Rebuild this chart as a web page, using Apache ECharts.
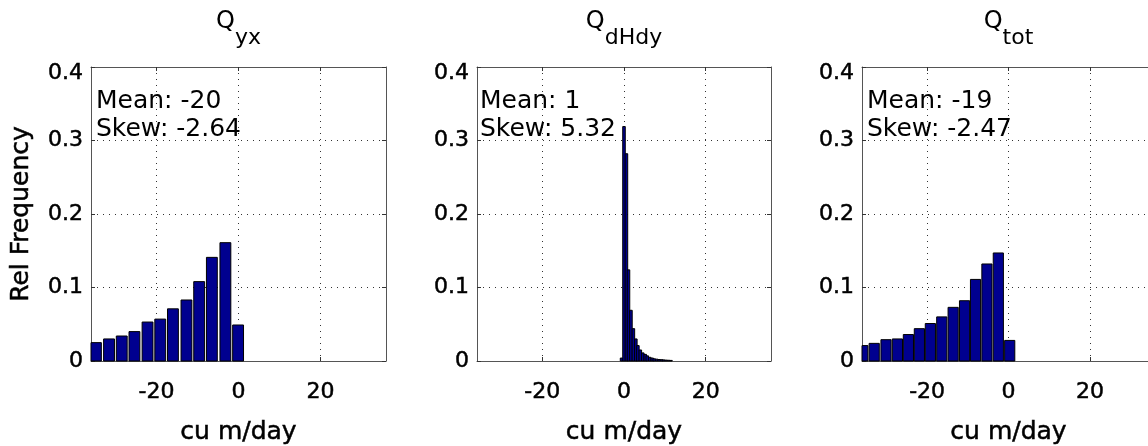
<!DOCTYPE html>
<html>
<head>
<meta charset="utf-8">
<script src="https://cdn.jsdelivr.net/npm/echarts@6/dist/echarts.min.js"></script>
<style>
html, body { margin: 0; padding: 0; background: #fff; }
#main { width: 1148px; height: 446px; }
</style>
</head>
<body>
<div id="main"></div>
<script>
// bin centres and relative frequencies
var qyxCenters = [-34.8, -31.6, -28.5, -25.4, -22.2, -19.1, -16.0, -12.7, -9.6, -6.5, -3.2, -0.1];
var qyxFreq = [0.025, 0.030, 0.034, 0.040, 0.053, 0.057, 0.071, 0.083, 0.108, 0.141, 0.161, 0.049];

var dhdyCenters = [-0.6, 0.0, 0.6, 1.1, 1.7, 2.3, 2.9, 3.4, 4.0, 4.6, 5.2, 5.7, 6.3, 6.9, 7.4, 8.0, 8.6, 9.2, 9.7, 10.3, 10.9, 11.5];
var dhdyFreq = [0.004, 0.319, 0.282, 0.124, 0.069, 0.044, 0.030, 0.021, 0.015, 0.011, 0.009, 0.007, 0.005, 0.004, 0.003, 0.0025, 0.002, 0.0018, 0.0015, 0.0012, 0.001, 0.0008];

var totCenters = [-35.8, -33.0, -30.1, -27.3, -24.6, -21.9, -19.2, -16.4, -13.6, -10.8, -8.1, -5.3, -2.5, 0.3];
var totFreq = [0.021, 0.024, 0.029, 0.030, 0.036, 0.044, 0.051, 0.060, 0.073, 0.082, 0.111, 0.132, 0.147, 0.028];

var xTicks = [-20, 0, 20];
var titleSubs = ['yx', 'dHdy', 'tot'];
var statLines = [
    ['Mean: -20', 'Skew: -2.64'],
    ['Mean: 1', 'Skew: 5.32'],
    ['Mean: -19', 'Skew: -2.47']
];

var FONT = 'DejaVu Sans';
var grids = [
    { left: 91, top: 67, width: 295, height: 294, outerBoundsMode: 'none' },
    { left: 477, top: 67, width: 294, height: 294, outerBoundsMode: 'none' },
    { left: 862, top: 67, width: 293, height: 294, outerBoundsMode: 'none' }
];
var panels = [
    { centers: qyxCenters, freq: qyxFreq, barW: 2.65 },
    { centers: dhdyCenters, freq: dhdyFreq, barW: 0.62 },
    { centers: totCenters, freq: totFreq, barW: 2.5 }
];

function histItem(barW) {
    return function(params, api) {
        var x = api.value(0), y = api.value(1);
        var a = api.coord([x - barW / 2, y]);
        var b = api.coord([x + barW / 2, 0]);
        var cs = params.coordSys;
        var rect = echarts.graphic.clipRectByRect(
            { x: a[0], y: a[1], width: b[0] - a[0], height: b[1] - a[1] },
            { x: cs.x, y: cs.y, width: cs.width, height: cs.height }
        );
        if (!rect) return;
        return {
            type: 'rect',
            shape: rect,
            style: { fill: '#00008f', stroke: '#000', lineWidth: 1 }
        };
    };
}

var lineCol = '#555';
// heavier look of the matlab axis text
var heavy = { textBorderColor: '#000', textBorderWidth: 0.5 };
var xAxes = [], yAxes = [], series = [], graphics = [];

grids.forEach(function(g, i) {
    // bottom axis with labels
    xAxes.push({
        type: 'value', gridIndex: i, min: -36, max: 36, position: 'bottom',
        axisLine: { show: true, onZero: false, lineStyle: { color: lineCol } },
        axisTick: { show: true, inside: true, length: 4, customValues: xTicks, lineStyle: { color: '#333' } },
        axisLabel: Object.assign({ customValues: xTicks, color: '#000', fontFamily: FONT, fontSize: 22, margin: 20 }, heavy),
        splitLine: { show: true, lineStyle: { color: '#333', type: [1, 5], width: 1 } },
        name: 'cu m/day', nameLocation: 'middle', nameGap: 59,
        nameTextStyle: Object.assign({ color: '#000', fontFamily: FONT, fontSize: 25 }, heavy)
    });
    // top axis, ticks only
    xAxes.push({
        type: 'value', gridIndex: i, min: -36, max: 36, position: 'top',
        axisLine: { show: true, onZero: false, lineStyle: { color: lineCol } },
        axisTick: { show: true, inside: true, length: 4, customValues: xTicks, lineStyle: { color: '#333' } },
        axisLabel: { show: false },
        splitLine: { show: false }
    });
    yAxes.push({
        type: 'value', gridIndex: i, min: 0, max: 0.4, interval: 0.1, position: 'left',
        axisLine: { show: true, onZero: false, lineStyle: { color: lineCol } },
        axisTick: { show: true, inside: true, length: 4, lineStyle: { color: '#333' } },
        axisLabel: Object.assign({
            color: '#000', fontFamily: FONT, fontSize: 22, margin: 8,
            // matlab keeps the top label inside the box
            formatter: function(v) { return v >= 0.4 ? '{top|' + v + '}' : String(v); },
            rich: { top: { fontFamily: FONT, fontSize: 22, color: '#000', padding: [13, 0, 0, 0], textBorderColor: '#000', textBorderWidth: 0.5 } }
        }, heavy),
        splitLine: { show: true, lineStyle: { color: '#333', type: [1, 5], width: 1 } },
        name: i === 0 ? 'Rel Frequency' : '', nameLocation: 'middle', nameGap: 57,
        nameTextStyle: Object.assign({ color: '#000', fontFamily: FONT, fontSize: 25 }, heavy)
    });
    yAxes.push({
        type: 'value', gridIndex: i, min: 0, max: 0.4, interval: 0.1, position: 'right',
        axisLine: { show: true, onZero: false, lineStyle: { color: lineCol } },
        axisTick: { show: true, inside: true, length: 4, lineStyle: { color: '#333' } },
        axisLabel: { show: false },
        splitLine: { show: false }
    });

    var p = panels[i];
    series.push({
        type: 'custom',
        xAxisIndex: 2 * i,
        yAxisIndex: 2 * i,
        renderItem: histItem(p.barW),
        encode: { x: 0, y: 1 },
        data: p.centers.map(function(c, k) { return [c, p.freq[k]]; }),
        silent: true
    });

    var cx = g.left + g.width / 2;
    graphics.push({
        type: 'text', x: cx, y: 10, z: 10,
        style: {
            text: '{q|Q}{s|' + titleSubs[i] + '}',
            align: 'center', verticalAlign: 'top',
            fill: '#000', fontFamily: FONT,
            rich: {
                q: { fontFamily: FONT, fontSize: 24, verticalAlign: 'top', fill: '#000' },
                s: { fontFamily: FONT, fontSize: 22, verticalAlign: 'top', padding: [17, 0, 0, 0], fill: '#000' }
            }
        }
    });
    graphics.push({
        type: 'text', x: g.left + (i === 1 ? 3 : 5), y: 87, z: 10,
        style: {
            text: statLines[i].join('\n'),
            align: 'left', verticalAlign: 'top',
            fill: '#000', fontFamily: FONT, fontSize: 25, lineHeight: 28
        }
    });
});

var option = {
    animation: false,
    backgroundColor: '#fff',
    grid: grids,
    xAxis: xAxes,
    yAxis: yAxes,
    series: series,
    graphic: graphics
};

var myChart = echarts.init(document.getElementById('main'));
myChart.setOption(option);
</script>
</body>
</html>
